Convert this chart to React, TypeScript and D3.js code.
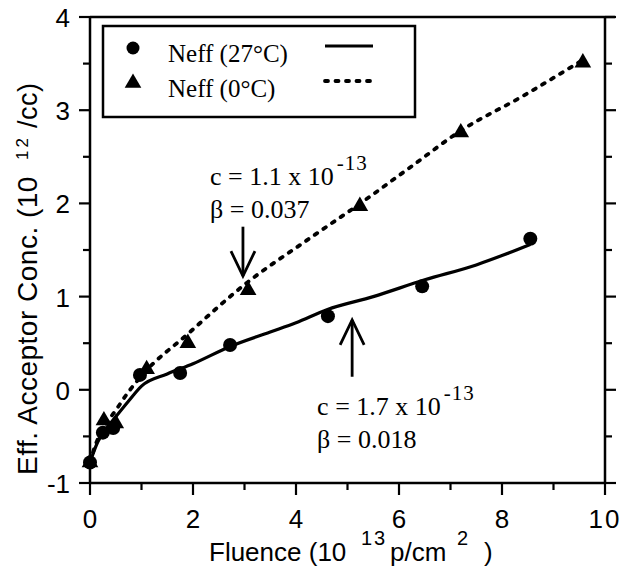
import React, { useEffect, useRef } from 'react';
import * as d3 from 'd3';

// measured points, 27°C (circles)
const fluence27 = [0, 0.25, 0.45, 0.97, 1.75, 2.72, 4.62, 6.45, 8.55];
const neff27 = [-0.78, -0.46, -0.41, 0.16, 0.18, 0.48, 0.79, 1.11, 1.62];
// measured points, 0°C (triangles)
const fluence0 = [0, 0.27, 0.5, 1.1, 1.9, 3.07, 5.24, 7.2, 9.57];
const neff0 = [-0.78, -0.33, -0.36, 0.22, 0.5, 1.07, 1.97, 2.76, 3.51];

// fitted curves
const fit27X = [0, 0.15, 0.3, 0.5, 0.75, 1.0, 1.5, 2.0, 2.7, 3.5, 4.0, 4.6, 5.5, 6.5, 7.5, 8.0, 8.55];
const fit27Y = [-0.78, -0.56, -0.43, -0.29, -0.12, 0.04, 0.17, 0.28, 0.46, 0.62, 0.72, 0.86, 1.0, 1.18, 1.34, 1.44, 1.56];
const fit0X = [0, 0.1, 0.25, 0.5, 0.75, 1.0, 1.9, 3.05, 4.2, 5.25, 6.2, 7.2, 8.4, 9.6];
const fit0Y = [-0.78, -0.6, -0.42, -0.22, -0.02, 0.15, 0.6, 1.15, 1.6, 2.0, 2.38, 2.78, 3.15, 3.55];

const xMajor = [0, 2, 4, 6, 8, 10];
const xMinor = [1, 3, 5, 7, 9];
const yMajor = [-1, 0, 1, 2, 3, 4];
const yMinor = [-0.5, 0.5, 1.5, 2.5, 3.5];

const legendItems = ['Neff (27°C)', 'Neff (0°C)'];

const W = 622;
const H = 568;
const MARGIN = { top: 17, right: 17, bottom: 85, left: 90 };
const SANS = '"Liberation Sans", Arial, Helvetica, sans-serif';
const SERIF = '"Liberation Serif", "Times New Roman", serif';

export default function App() {
  const svgRef = useRef<SVGSVGElement>(null);

  useEffect(() => {
    const svg = d3.select(svgRef.current);
    svg.selectAll('*').remove();

    const x = d3.scaleLinear().domain([0, 10]).range([MARGIN.left, W - MARGIN.right]);
    const y = d3.scaleLinear().domain([-1, 4]).range([H - MARGIN.bottom, MARGIN.top]);
    const x0 = x(0), x1 = x(10), y0 = y(-1), y1 = y(4);

    // frame
    const frame = svg.append('g').attr('stroke', '#000').attr('stroke-width', 2.5).attr('fill', 'none');
    frame.append('line').attr('x1', x0).attr('x2', x1).attr('y1', y0).attr('y2', y0);
    frame.append('line').attr('x1', x0).attr('x2', x0).attr('y1', y0).attr('y2', y1);
    frame.append('line').attr('x1', x1).attr('x2', x1).attr('y1', y0).attr('y2', y1);
    frame.append('line').attr('x1', x0).attr('x2', x1 + 10).attr('y1', y1).attr('y2', y1);

    // ticks
    const ticks = svg.append('g').attr('stroke', '#000').attr('stroke-width', 2.2);
    xMajor.forEach(v => ticks.append('line').attr('x1', x(v)).attr('x2', x(v)).attr('y1', y0).attr('y2', y0 + 12));
    xMinor.forEach(v => ticks.append('line').attr('x1', x(v)).attr('x2', x(v)).attr('y1', y0).attr('y2', y0 + 7));
    yMajor.forEach(v => {
      ticks.append('line').attr('x1', x0 - 11).attr('x2', x0).attr('y1', y(v)).attr('y2', y(v));
      ticks.append('line').attr('x1', x1).attr('x2', x1 + 11).attr('y1', y(v)).attr('y2', y(v));
    });
    yMinor.forEach(v => {
      ticks.append('line').attr('x1', x0 - 7).attr('x2', x0).attr('y1', y(v)).attr('y2', y(v));
      ticks.append('line').attr('x1', x1).attr('x2', x1 + 7).attr('y1', y(v)).attr('y2', y(v));
    });

    // tick labels
    xMajor.forEach(v => {
      svg.append('text')
        .attr('x', x(v)).attr('y', y0 + 45)
        .attr('text-anchor', 'middle')
        .style('font-family', SANS).style('font-size', '26px')
        .style('letter-spacing', v === 10 ? '2px' : '0px')
        .text(v);
    });
    yMajor.forEach(v => {
      svg.append('text')
        .attr('x', x0 - 20).attr('y', y(v) + 1)
        .attr('text-anchor', 'end').attr('dominant-baseline', 'central')
        .style('font-family', SANS).style('font-size', '26px')
        .text(v);
    });

    // axis titles
    const xt = svg.append('text')
      .attr('x', 209).attr('y', 561)
      .style('font-family', SANS).style('font-size', '26px');
    xt.append('tspan').text('Fluence (10');
    xt.append('tspan').attr('x', 361).attr('dy', -16).style('font-size', '20px').style('letter-spacing', '2px').text('13');
    xt.append('tspan').attr('x', 390).attr('dy', 16).text('p/cm');
    xt.append('tspan').attr('x', 457).attr('dy', -16).style('font-size', '20px').text('2');
    xt.append('tspan').attr('x', 484).attr('dy', 16).text(')');

    const yt = svg.append('text')
      .attr('transform', 'translate(37,475) rotate(-90)')
      .style('font-family', SANS).style('font-size', '28px').style('letter-spacing', '0.5px');
    yt.append('tspan').attr('x', 0).text('Eff. Acceptor Conc. (10');
    yt.append('tspan').attr('x', 315).attr('dy', -9).style('font-size', '17px').style('letter-spacing', '3px').text('12');
    yt.append('tspan').attr('x', 347).attr('dy', 9).style('font-size', '27px').text('/cc)');

    // fit curves
    const line = d3.line<[number, number]>()
      .x(d => x(d[0])).y(d => y(d[1]))
      .curve(d3.curveMonotoneX);
    svg.append('path')
      .attr('d', line(fit27X.map((v, i) => [v, fit27Y[i]]) as [number, number][]))
      .attr('fill', 'none').attr('stroke', '#000').attr('stroke-width', 3.2);
    svg.append('path')
      .attr('d', line(fit0X.map((v, i) => [v, fit0Y[i]]) as [number, number][]))
      .attr('fill', 'none').attr('stroke', '#000').attr('stroke-width', 3.8)
      .attr('stroke-dasharray', '3 7.5').attr('stroke-linecap', 'round');

    // markers
    const tri = d3.symbol().type(d3.symbolTriangle).size(120);
    fluence0.forEach((v, i) => {
      svg.append('path').attr('d', tri()).attr('transform', `translate(${x(v)},${y(neff0[i])})`).attr('fill', '#000');
    });
    fluence27.forEach((v, i) => {
      svg.append('circle').attr('cx', x(v)).attr('cy', y(neff27[i])).attr('r', 7).attr('fill', '#000');
    });

    // legend
    const lg = svg.append('g');
    lg.append('rect').attr('x', 103).attr('y', 26).attr('width', 312).attr('height', 91)
      .attr('fill', '#fff').attr('stroke', '#000').attr('stroke-width', 2.5);
    legendItems.forEach((t, i) => {
      const cy = 48 + i * 35;
      if (i === 0) lg.append('circle').attr('cx', 133).attr('cy', cy).attr('r', 6.5).attr('fill', '#000');
      else lg.append('path').attr('d', tri()).attr('transform', `translate(133,${cy})`).attr('fill', '#000');
      lg.append('text').attr('x', 168).attr('y', 62 + i * 35)
        .style('font-family', SERIF).style('font-size', '25px').text(t);
      const l = lg.append('line').attr('x1', 325).attr('x2', 373).attr('y1', cy - 2).attr('y2', cy - 2)
        .attr('stroke', '#000');
      if (i === 0) l.attr('stroke-width', 3.2);
      else l.attr('stroke-width', 3.8).attr('stroke-dasharray', '3 7.5').attr('stroke-linecap', 'round');
    });

    // annotations
    const annot = (ax: number, ay: number, c: string, b: string) => {
      const t1 = svg.append('text').attr('x', x(ax)).attr('y', y(ay))
        .style('font-family', SERIF).style('font-size', '26px');
      t1.append('tspan').text(`c = ${c} x 10`);
      t1.append('tspan').attr('dx', 3).attr('dy', -15).style('font-size', '21px').style('letter-spacing', '1px').text('-13');
      svg.append('text').attr('x', x(ax)).attr('y', y(ay) + 33)
        .style('font-family', SERIF).style('font-size', '26px').text(`β = ${b}`);
    };
    annot(2.33, 2.2, '1.1', '0.037');
    annot(4.41, -0.27, '1.7', '0.018');

    const arrow = (ax: number, fromY: number, toY: number) => {
      const xs = x(ax), ya = y(fromY), yb = y(toY);
      const dir = yb > ya ? 1 : -1;
      const g = svg.append('g').attr('stroke', '#000').attr('stroke-width', 2.8).attr('fill', 'none');
      g.append('line').attr('x1', xs).attr('x2', xs).attr('y1', ya).attr('y2', yb);
      g.append('path').attr('d', `M${xs - 12},${yb - dir * 25}L${xs},${yb}L${xs + 12},${yb - dir * 25}`);
    };
    arrow(2.97, 1.75, 1.22);
    arrow(5.09, 0.14, 0.75);
  }, []);

  return (
    <svg ref={svgRef} width={W} height={H}
      style={{ position: 'absolute', left: 0, top: 0, background: '#fff' }} />
  );
}
